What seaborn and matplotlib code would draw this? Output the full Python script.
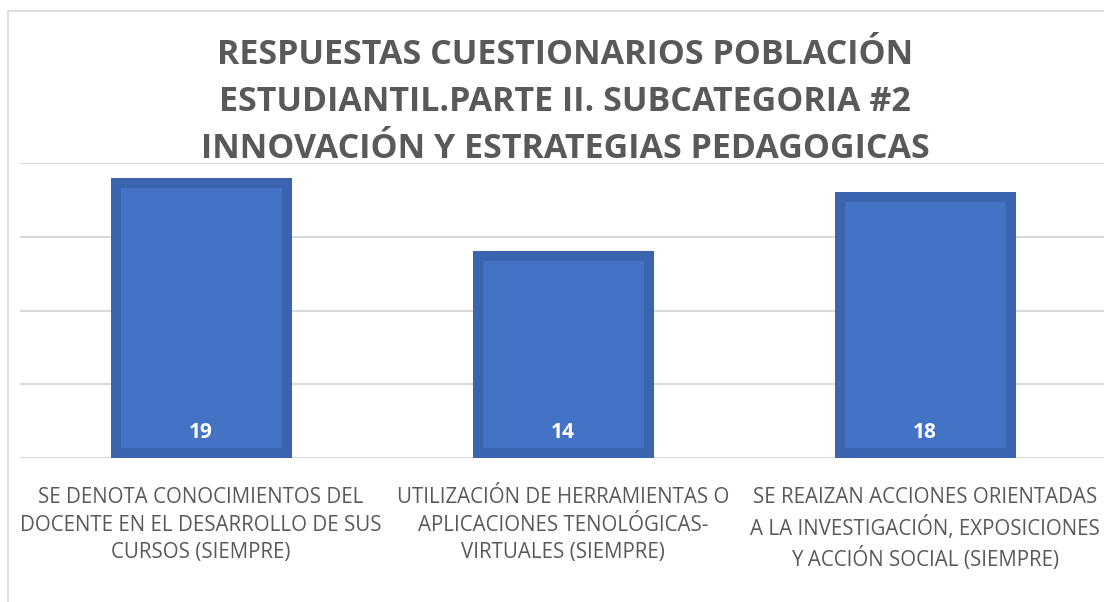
import matplotlib
matplotlib.use("Agg")
import matplotlib.pyplot as plt
import seaborn as sns
import pandas as pd
from matplotlib.patches import Rectangle

# Data
categorias = [
    "SE DENOTA CONOCIMIENTOS DEL\nDOCENTE EN EL DESARROLLO DE SUS\nCURSOS (SIEMPRE)",
    "UTILIZACIÓN DE HERRAMIENTAS O\nAPLICACIONES TENOLÓGICAS-\nVIRTUALES (SIEMPRE)",
    "SE REAIZAN ACCIONES ORIENTADAS\nA LA INVESTIGACIÓN, EXPOSICIONES\nY ACCIÓN SOCIAL (SIEMPRE)",
]
respuestas = [19, 14, 18]
titulo = ("RESPUESTAS CUESTIONARIOS POBLACIÓN\n"
          "ESTUDIANTIL.PARTE II. SUBCATEGORIA #2\n"
          "INNOVACIÓN Y ESTRATEGIAS PEDAGOGICAS")

df = pd.DataFrame({"cat": categorias, "val": respuestas})

sns.set_theme(style="white")
plt.rcParams["font.family"] = ["Open Sans", "DejaVu Sans"]

gris = "#595959"
azul = "#4472C4"
borde = "#3A64AE"

fig = plt.figure(figsize=(11.04, 6.02), dpi=100)
ax = fig.add_axes([20 / 1104, (602 - 458) / 602, 1086 / 1104, (458 - 163) / 602])

sns.barplot(data=df, x="cat", y="val", hue="cat", palette=[azul] * 3,
            legend=False, width=0.5, ax=ax, saturation=1)

# inner border like excel
for p in ax.patches:
    p.set_edgecolor(borde)
    p.set_linewidth(14.4)
    p.set_clip_path(p)

ax.set_ylim(0, 20)
ax.set_yticks([0, 5, 10, 15, 20])
ax.yaxis.grid(True, color="#D9D9D9", linewidth=1.5)
ax.set_axisbelow(True)
ax.set_yticklabels([])
ax.tick_params(axis="y", length=0)
ax.tick_params(axis="x", length=0, pad=21)
for s in ax.spines.values():
    s.set_visible(False)
ax.set_xlabel("")
ax.set_ylabel("")
for lab in ax.get_xticklabels():
    lab.set_color(gris)
    lab.set_fontsize(14.8)
    lab.set_linespacing(1.4)
    lab.set_va("top")

for i, v in enumerate(respuestas):
    ax.annotate(str(v), (i, 0), xytext=(0, 25), textcoords="offset pixels",
                ha="center", va="center", color="white", fontsize=15,
                fontweight="bold")

fig.text(565 / 1104, 1 - 102 / 602, titulo, ha="center", va="center",
         fontsize=24.5, fontweight="bold", color=gris, linespacing=1.5)

# chart frame
fig.patches.append(Rectangle((8 / 1104, -0.1), 1.2, 1 - 11 / 602 + 0.1,
                             transform=fig.transFigure, fill=False,
                             edgecolor="#D9D9D9", linewidth=1.2))

fig.savefig("out.png", dpi=100, facecolor="white")
